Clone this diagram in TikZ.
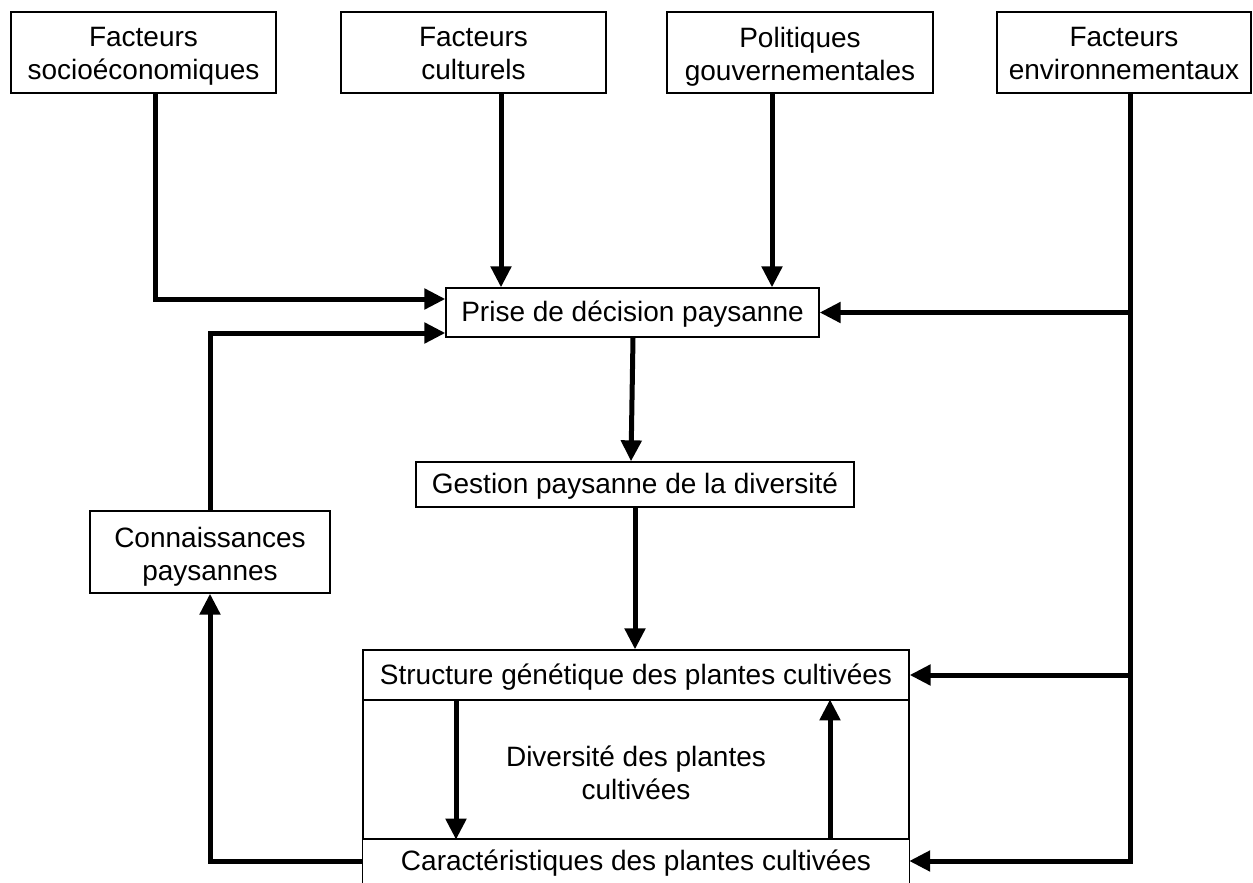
\documentclass[tikz,border=0pt]{standalone}
\usepackage{fontspec}
\setmainfont{Liberation Sans}
\usetikzlibrary{arrows.meta}
\begin{document}
\begin{tikzpicture}[x=1pt,y=-1pt,
  box/.style={draw, line width=1.3pt, inner sep=0pt},
  txt/.style={align=center, inner sep=0pt, font=\fontsize{28}{33}\selectfont},
  arr/.style={line width=5pt, -{Triangle[length=21pt,width=20pt]}},
  ln/.style={line width=5pt}]
\useasboundingbox (0,0) rectangle (1253,883);
\clip (0,0) rectangle (1253,883);

% top row
\node[box, minimum width=265pt, minimum height=81pt] (b1) at (143.5,52.5) {};
\node[box, minimum width=265pt, minimum height=81pt] (b2) at (473.5,52.5) {};
\node[box, minimum width=266pt, minimum height=81pt] (b3) at (800,52.5) {};
\node[box, minimum width=254pt, minimum height=81pt] (b4) at (1124,52.5) {};
\node[txt] (b1t) at ([yshift=-4pt]b1.center) {Facteurs\\socioéconomiques};
\node[txt] (b2t) at ([yshift=-4pt]b2.center) {Facteurs\\culturels\vphantom{q}};
\node[txt] (b3t) at ([yshift=-4pt]b3.center) {Politiques\\gouvernementales};
\node[txt] (b4t) at ([yshift=-4pt]b4.center) {Facteurs\\environnementaux\vphantom{q}};

% middle
\node[box, minimum width=373pt, minimum height=49pt] (prise) at (632.5,312.5) {};
\node[txt] (priset) at ([yshift=-2pt]prise.center) {Prise de décision paysanne};
\node[box, minimum width=438pt, minimum height=45pt] (gestion) at (635,484.5) {};
\node[txt] (gestiont) at ([yshift=-2pt]gestion.center) {Gestion paysanne de la diversité};
\node[box, minimum width=240pt, minimum height=82pt] (conn) at (210,552) {};
\node[txt] (connt) at ([yshift=-5pt]conn.center) {Connaissances\\paysannes};

% bottom block
\node[box, minimum width=546pt, minimum height=50pt] (struct) at (636,675) {};
\node[txt] (structt) at ([yshift=-2pt]struct.center) {Structure génétique des plantes cultivées};
\node[box, minimum width=546pt, minimum height=139pt] (div) at (636,769.5) {};
\node[txt] (divt) at ([yshift=-3pt]div.center) {Diversité des plantes\\cultivées};
\node[txt, minimum width=546pt, minimum height=44pt] (carac) at (636,861) {};
\node[txt] (caract) at ([yshift=-2pt]carac.center) {Caractéristiques des plantes cultivées};
\draw[line width=1.3pt] (div.south west) -- ++(0,60) (div.south east) -- ++(0,60);

% connectors from top
\draw[arr] ([xshift=11.5pt]b1.south) |- ([yshift=13.5pt]prise.west);
\draw[arr] ([xshift=27.5pt]b2.south) -- ([xshift=27.5pt]b2.south |- prise.north);
\draw[arr] ([xshift=-28pt]b3.south) -- ([xshift=-28pt]b3.south |- prise.north);
\coordinate (env) at ([xshift=6pt]b4.south);
\draw[ln] (env) -- ([yshift=-2.5pt]env |- carac.east);
\draw[arr] (env |- prise.east) -- (prise.east);
\draw[arr] (env |- struct.east) -- (struct.east);
\draw[arr] ([xshift=2.5pt]env |- carac.east) -- (carac.east);

% central chain
\draw[arr] ([xshift=0.5pt]prise.south) -- ([xshift=-4pt]gestion.north);
\draw[arr] (gestion.south) -- (gestion.south |- struct.north);

% inner loop
\draw[arr] ([xshift=-180pt]div.north) -- ([xshift=-180pt]div.south);
\draw[arr] ([xshift=194pt]div.south) -- ([xshift=194pt]div.north);

% knowledge loop
\draw[arr] (carac.west) -| (conn.south);
\draw[arr] (conn.north) |- ([yshift=-20.5pt]prise.west);
\end{tikzpicture}
\end{document}
